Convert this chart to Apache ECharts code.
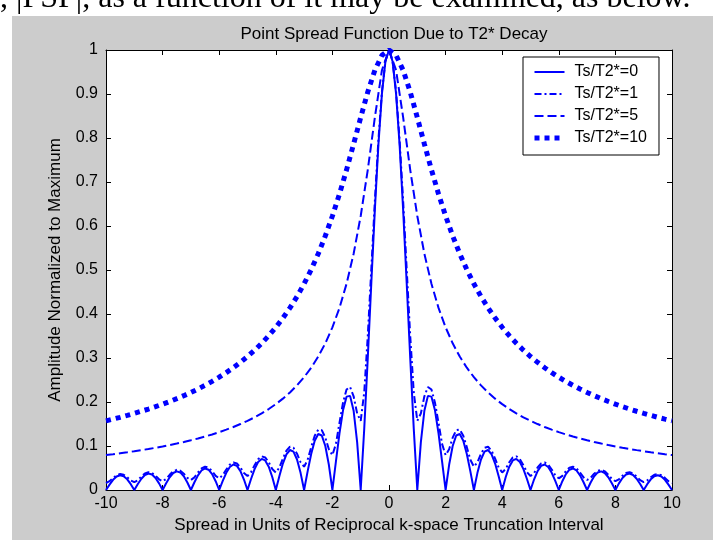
<!DOCTYPE html>
<html><head><meta charset="utf-8">
<script src="https://cdn.jsdelivr.net/npm/echarts@6/dist/echarts.min.js"></script>
<style>html,body{margin:0;padding:0;background:#fff}#c{width:725px;height:542px}</style>
</head><body><div id="c"></div>
<script>
// x positions (units of reciprocal k-space truncation interval)
const xFine = [
-10,-9.875,-9.75,-9.625,-9.5,-9.375,-9.25,-9.125,
-9,-8.875,-8.75,-8.625,-8.5,-8.375,-8.25,-8.125,
-8,-7.875,-7.75,-7.625,-7.5,-7.375,-7.25,-7.125,
-7,-6.875,-6.75,-6.625,-6.5,-6.375,-6.25,-6.125,
-6,-5.875,-5.75,-5.625,-5.5,-5.375,-5.25,-5.125,
-5,-4.875,-4.75,-4.625,-4.5,-4.375,-4.25,-4.125,
-4,-3.875,-3.75,-3.625,-3.5,-3.375,-3.25,-3.125,
-3,-2.875,-2.75,-2.625,-2.5,-2.375,-2.25,-2.125,
-2,-1.875,-1.75,-1.625,-1.5,-1.375,-1.25,-1.125,
-1,-0.875,-0.75,-0.625,-0.5,-0.375,-0.25,-0.125,
0,
0.125,0.25,0.375,0.5,0.625,0.75,0.875,1,
1.125,1.25,1.375,1.5,1.625,1.75,1.875,2,
2.125,2.25,2.375,2.5,2.625,2.75,2.875,3,
3.125,3.25,3.375,3.5,3.625,3.75,3.875,4,
4.125,4.25,4.375,4.5,4.625,4.75,4.875,5,
5.125,5.25,5.375,5.5,5.625,5.75,5.875,6,
6.125,6.25,6.375,6.5,6.625,6.75,6.875,7,
7.125,7.25,7.375,7.5,7.625,7.75,7.875,8,
8.125,8.25,8.375,8.5,8.625,8.75,8.875,9,
9.125,9.25,9.375,9.5,9.625,9.75,9.875,10
];
const xCoarse = [
-10,-9.75,-9.5,-9.25,-9,-8.75,-8.5,-8.25,-8,-7.75,-7.5,-7.25,-7,-6.75,-6.5,-6.25,
-6,-5.75,-5.5,-5.25,-5,-4.75,-4.5,-4.25,-4,-3.75,-3.5,-3.25,-3,-2.75,-2.5,-2.25,
-2,-1.75,-1.5,-1.25,-1,-0.75,-0.5,-0.25,
0,
0.25,0.5,0.75,1,1.25,1.5,1.75,2,2.25,2.5,2.75,3,3.25,3.5,3.75,4,
4.25,4.5,4.75,5,5.25,5.5,5.75,6,6.25,6.5,6.75,7,7.25,7.5,7.75,8,
8.25,8.5,8.75,9,9.25,9.5,9.75,10
];

const seriesNames = ['Ts/T2*=0', 'Ts/T2*=1', 'Ts/T2*=5', 'Ts/T2*=10'];

// Ts/T2*=0 (on xFine)
const psf0 = [
0,0.0123,0.0231,0.0306,0.0335,0.0314,0.0243,0.0133,
0,0.0137,0.0257,0.0341,0.0374,0.0351,0.0273,0.0150,
0,0.0155,0.0290,0.0386,0.0424,0.0399,0.0310,0.0171,
0,0.0177,0.0333,0.0444,0.0490,0.0461,0.0360,0.0199,
0,0.0207,0.0391,0.0523,0.0579,0.0547,0.0429,0.0238,
0,0.0250,0.0474,0.0636,0.0707,0.0672,0.0530,0.0295,
0,0.0314,0.0600,0.0811,0.0909,0.0871,0.0693,0.0390,
0,0.0424,0.0818,0.1120,0.1273,0.1238,0.1000,0.0573,
0,0.0650,0.1286,0.1810,0.2122,0.2139,0.1801,0.1083,
0,0.1392,0.3001,0.4705,0.6366,0.7842,0.9003,0.9745,
1,
0.9745,0.9003,0.7842,0.6366,0.4705,0.3001,0.1392,0,
0.1083,0.1801,0.2139,0.2122,0.1810,0.1286,0.0650,0,
0.0573,0.1000,0.1238,0.1273,0.1120,0.0818,0.0424,0,
0.0390,0.0693,0.0871,0.0909,0.0811,0.0600,0.0314,0,
0.0295,0.0530,0.0672,0.0707,0.0636,0.0474,0.0250,0,
0.0238,0.0429,0.0547,0.0579,0.0523,0.0391,0.0207,0,
0.0199,0.0360,0.0461,0.0490,0.0444,0.0333,0.0177,0,
0.0171,0.0310,0.0399,0.0424,0.0386,0.0290,0.0155,0,
0.0150,0.0273,0.0351,0.0374,0.0341,0.0257,0.0137,0,
0.0133,0.0243,0.0314,0.0335,0.0306,0.0231,0.0123,0
];
// Ts/T2*=1 (on xFine)
const psf1 = [
0.0159,0.0200,0.0275,0.0337,0.0362,0.0346,0.0290,0.0216,
0.0177,0.0222,0.0307,0.0376,0.0405,0.0387,0.0325,0.0243,
0.0199,0.0251,0.0346,0.0425,0.0459,0.0439,0.0370,0.0277,
0.0227,0.0287,0.0397,0.0489,0.0530,0.0508,0.0429,0.0322,
0.0265,0.0336,0.0466,0.0576,0.0626,0.0602,0.0511,0.0385,
0.0318,0.0405,0.0565,0.0700,0.0765,0.0740,0.0631,0.0478,
0.0398,0.0509,0.0715,0.0893,0.0983,0.0959,0.0825,0.0631,
0.0530,0.0686,0.0974,0.1232,0.1375,0.1361,0.1189,0.0927,
0.0793,0.1049,0.1527,0.1984,0.2283,0.2341,0.2129,0.1738,
0.1572,0.2220,0.3499,0.5023,0.6564,0.7953,0.9053,0.9757,
1,
0.9757,0.9053,0.7953,0.6564,0.5023,0.3499,0.2220,0.1572,
0.1738,0.2129,0.2341,0.2283,0.1984,0.1527,0.1049,0.0793,
0.0927,0.1189,0.1361,0.1375,0.1232,0.0974,0.0686,0.0530,
0.0631,0.0825,0.0959,0.0983,0.0893,0.0715,0.0509,0.0398,
0.0478,0.0631,0.0740,0.0765,0.0700,0.0565,0.0405,0.0318,
0.0385,0.0511,0.0602,0.0626,0.0576,0.0466,0.0336,0.0265,
0.0322,0.0429,0.0508,0.0530,0.0489,0.0397,0.0287,0.0227,
0.0277,0.0370,0.0439,0.0459,0.0425,0.0346,0.0251,0.0199,
0.0243,0.0325,0.0387,0.0405,0.0376,0.0307,0.0222,0.0177,
0.0216,0.0290,0.0346,0.0362,0.0337,0.0275,0.0200,0.0159
];
// Ts/T2*=5 (on xCoarse)
const psf5 = [
0.0793,0.0813,0.0835,0.0857,0.0881,0.0906,0.0932,0.0960,0.0990,0.1021,0.1055,0.1091,0.1130,0.1171,0.1215,0.1263,
0.1315,0.1371,0.1432,0.1499,0.1572,0.1652,0.1741,0.1840,0.1951,0.2076,0.2217,0.2378,0.2564,0.2780,0.3033,0.3334,
0.3697,0.4139,0.4686,0.5370,0.6227,0.7277,0.8467,0.9540,
1,
0.9540,0.8467,0.7277,0.6227,0.5370,0.4686,0.4139,0.3697,0.3334,0.3033,0.2780,0.2564,0.2378,0.2217,0.2076,0.1951,
0.1840,0.1741,0.1652,0.1572,0.1499,0.1432,0.1371,0.1315,0.1263,0.1215,0.1171,0.1130,0.1091,0.1055,0.1021,0.0990,
0.0960,0.0932,0.0906,0.0881,0.0857,0.0835,0.0813,0.0793
];
// Ts/T2*=10 (on xCoarse)
const psf10 = [
0.1572,0.1611,0.1652,0.1696,0.1741,0.1790,0.1840,0.1894,0.1951,0.2012,0.2076,0.2144,0.2217,0.2295,0.2378,0.2468,
0.2564,0.2668,0.2780,0.2901,0.3033,0.3177,0.3334,0.3507,0.3697,0.3907,0.4139,0.4398,0.4686,0.5009,0.5370,0.5775,
0.6227,0.6728,0.7277,0.7864,0.8467,0.9046,0.9540,0.9879,
1,
0.9879,0.9540,0.9046,0.8467,0.7864,0.7277,0.6728,0.6227,0.5775,0.5370,0.5009,0.4686,0.4398,0.4139,0.3907,0.3697,
0.3507,0.3334,0.3177,0.3033,0.2901,0.2780,0.2668,0.2564,0.2468,0.2378,0.2295,0.2217,0.2144,0.2076,0.2012,0.1951,
0.1894,0.1840,0.1790,0.1741,0.1696,0.1652,0.1611,0.1572
];

const titleText = 'Point Spread Function Due to T2* Decay';
const xName = 'Spread in Units of Reciprocal k-space Truncation Interval';
const yName = 'Amplitude Normalized to Maximum';
const topText = ', |PSF|, as a function of it may be examined, as below.';

const font = '"Liberation Sans", Arial, sans-serif';
const blue = '#0000ff';
function pairs(xs, ys) { return xs.map((x, i) => [x, ys[i]]); }

const chart = echarts.init(document.getElementById('c'), null, { renderer: 'canvas' });

const tickStyle = { inside: true, length: 5, lineStyle: { color: '#000', width: 1 } };
const lineAx = { show: true, onZero: false, lineStyle: { color: '#000', width: 1 } };
const txt = { color: '#000', fontSize: 16, fontFamily: font };
const nameTxt = { color: '#000', fontSize: 17, fontFamily: font };

const styles = [
  { color: blue, width: 2, type: 'solid' },
  { color: blue, width: 2, type: [7, 3, 2, 3] },
  { color: blue, width: 2, type: [9, 4] },
  { color: blue, width: 5, type: [5, 5], cap: 'butt' }
];

const option = {
  backgroundColor: '#fff',
  animation: false,
  title: {
    text: titleText, left: 389, top: 21, textAlign: 'center',
    textStyle: { fontSize: 17, fontWeight: 'normal', color: '#000', fontFamily: font }
  },
  graphic: [
    { type: 'rect', z: -100, silent: true, shape: { x: 12, y: 16, width: 701, height: 524 }, style: { fill: '#cccccc' } },
    { type: 'text', z: 100, x: 0, y: -17, silent: true,
      style: { text: topText, font: '32px "Liberation Serif", "Times New Roman", serif', fill: '#000', verticalAlign: 'top' } }
  ],
  grid: { left: 106, top: 50, width: 566, height: 440, show: true, backgroundColor: '#fff', borderWidth: 0 },
  legend: {
    orient: 'vertical', left: 523, top: 57,
    padding: [7, 12, 9, 9],
    itemWidth: 30, itemHeight: 14, itemGap: 6,
    borderColor: '#000', borderWidth: 1, backgroundColor: '#fff',
    textStyle: { color: '#000', fontSize: 16, fontFamily: font, padding: [0, 0, 0, 5] },
    itemStyle: { opacity: 0 },
    data: seriesNames.map((n, i) => ({ name: n, lineStyle: Object.assign({}, styles[i]) }))
  },
  xAxis: [
    { type: 'value', position: 'bottom', min: -10, max: 10, interval: 2,
      axisLine: lineAx, axisTick: tickStyle, splitLine: { show: false },
      axisLabel: Object.assign({ margin: 6 }, txt),
      name: xName, nameLocation: 'middle', nameGap: 24, nameTextStyle: nameTxt },
    { type: 'value', position: 'top', min: -10, max: 10, interval: 2,
      axisLine: lineAx, axisTick: tickStyle, splitLine: { show: false }, axisLabel: { show: false } }
  ],
  yAxis: [
    { type: 'value', position: 'left', min: 0, max: 1, interval: 0.1,
      axisLine: lineAx, axisTick: tickStyle, splitLine: { show: false },
      axisLabel: Object.assign({ margin: 8 }, txt),
      name: yName, nameLocation: 'middle', nameGap: 42, nameRotate: 90, nameTextStyle: nameTxt },
    { type: 'value', position: 'right', min: 0, max: 1, interval: 0.1,
      axisLine: lineAx, axisTick: tickStyle, splitLine: { show: false }, axisLabel: { show: false } }
  ],
  series: [
    { type: 'line', name: seriesNames[0], data: pairs(xFine, psf0), symbol: 'none',
      lineStyle: styles[0], itemStyle: { color: blue } },
    { type: 'line', name: seriesNames[1], data: pairs(xFine, psf1), symbol: 'none',
      lineStyle: styles[1], itemStyle: { color: blue } },
    { type: 'line', name: seriesNames[2], data: pairs(xCoarse, psf5), symbol: 'none',
      lineStyle: styles[2], itemStyle: { color: blue } },
    { type: 'line', name: seriesNames[3], data: pairs(xCoarse, psf10), symbol: 'none',
      lineStyle: styles[3], itemStyle: { color: blue } }
  ]
};
chart.setOption(option);
</script>
</body></html>
